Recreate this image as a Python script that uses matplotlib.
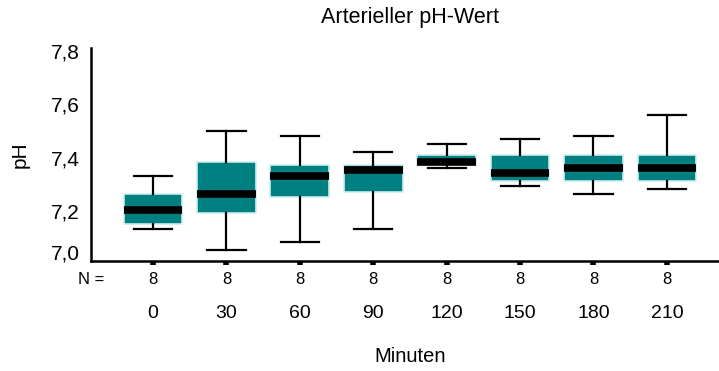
import matplotlib
matplotlib.use('Agg')
import matplotlib.pyplot as plt
import matplotlib.transforms as mtransforms

plt.rcParams['font.family'] = ['Liberation Sans', 'DejaVu Sans']

# Daten
minuten = ['0', '30', '60', '90', '120', '150', '180', '210']
n_werte = [8, 8, 8, 8, 8, 8, 8, 8]
oberer_whisker = [7.32, 7.49, 7.47, 7.41, 7.44, 7.46, 7.47, 7.55]
q3 = [7.25, 7.37, 7.36, 7.36, 7.40, 7.40, 7.40, 7.40]
median = [7.19, 7.25, 7.32, 7.34, 7.37, 7.33, 7.35, 7.35]
q1 = [7.14, 7.18, 7.24, 7.26, 7.36, 7.30, 7.30, 7.30]
unterer_whisker = [7.12, 7.04, 7.07, 7.12, 7.35, 7.28, 7.25, 7.27]

stats = []
for i in range(len(minuten)):
    stats.append({'whislo': unterer_whisker[i], 'q1': q1[i], 'med': median[i],
                  'q3': q3[i], 'whishi': oberer_whisker[i], 'fliers': []})

fig = plt.figure(figsize=(7.19, 3.71), dpi=100)
ax = fig.add_axes([91 / 719, 110 / 371, 628 / 719, 213 / 371])

pos = list(range(len(minuten)))
bp = ax.bxp(stats, positions=pos, widths=0.8, capwidths=0.52, patch_artist=True,
            showfliers=False,
            boxprops=dict(facecolor='#008080', edgecolor='#cdeeee', linewidth=1.2),
            medianprops=dict(color='black', linewidth=5.5, solid_capstyle='butt'),
            whiskerprops=dict(color='black', linewidth=1.6),
            capprops=dict(color='black', linewidth=1.6))

ax.set_xlim(-0.845, 7.71)
ax.set_ylim(7.0, 7.8)
ax.set_yticks([7.0, 7.2, 7.4, 7.6, 7.8])
ax.set_yticklabels(['7,0', '7,2', '7,4', '7,6', '7,8'])
ax.tick_params(axis='y', length=0, pad=8, labelsize=15)
ax.set_xticks(pos)
ax.set_xticklabels(minuten)
ax.tick_params(axis='x', direction='out', length=3, width=4, pad=29, labelsize=14)

# y-Beschriftungen leicht verschieben wie im Original
for i, lab in enumerate(ax.get_yticklabels()):
    dy = 9 if i == 0 else -3
    lab.set_transform(lab.get_transform() +
                      mtransforms.ScaledTranslation(0, dy / 100, fig.dpi_scale_trans))

for s in ['top', 'right']:
    ax.spines[s].set_visible(False)
for s in ['left', 'bottom']:
    ax.spines[s].set_linewidth(1.8)

# N-Zeile
ax.annotate('N =', xy=(0, 0), xycoords='axes fraction', xytext=(0, -18),
            textcoords='offset pixels', ha='center', va='center', fontsize=12)
for x, n in zip(pos, n_werte):
    ax.annotate(str(n), xy=(x, 0), xycoords=('data', 'axes fraction'),
                xytext=(0, -18), textcoords='offset pixels',
                ha='center', va='center', fontsize=12)

fig.text(410 / 719, 1 - 18 / 371, 'Arterieller pH-Wert', ha='center', va='center', fontsize=15.5)
fig.text(410 / 719, 1 - 357 / 371, 'Minuten', ha='center', va='center', fontsize=14.5)
fig.text(20 / 719, 1 - 155 / 371, 'pH', ha='center', va='center', rotation=90, fontsize=15)

plt.savefig('out.png', dpi=100)
